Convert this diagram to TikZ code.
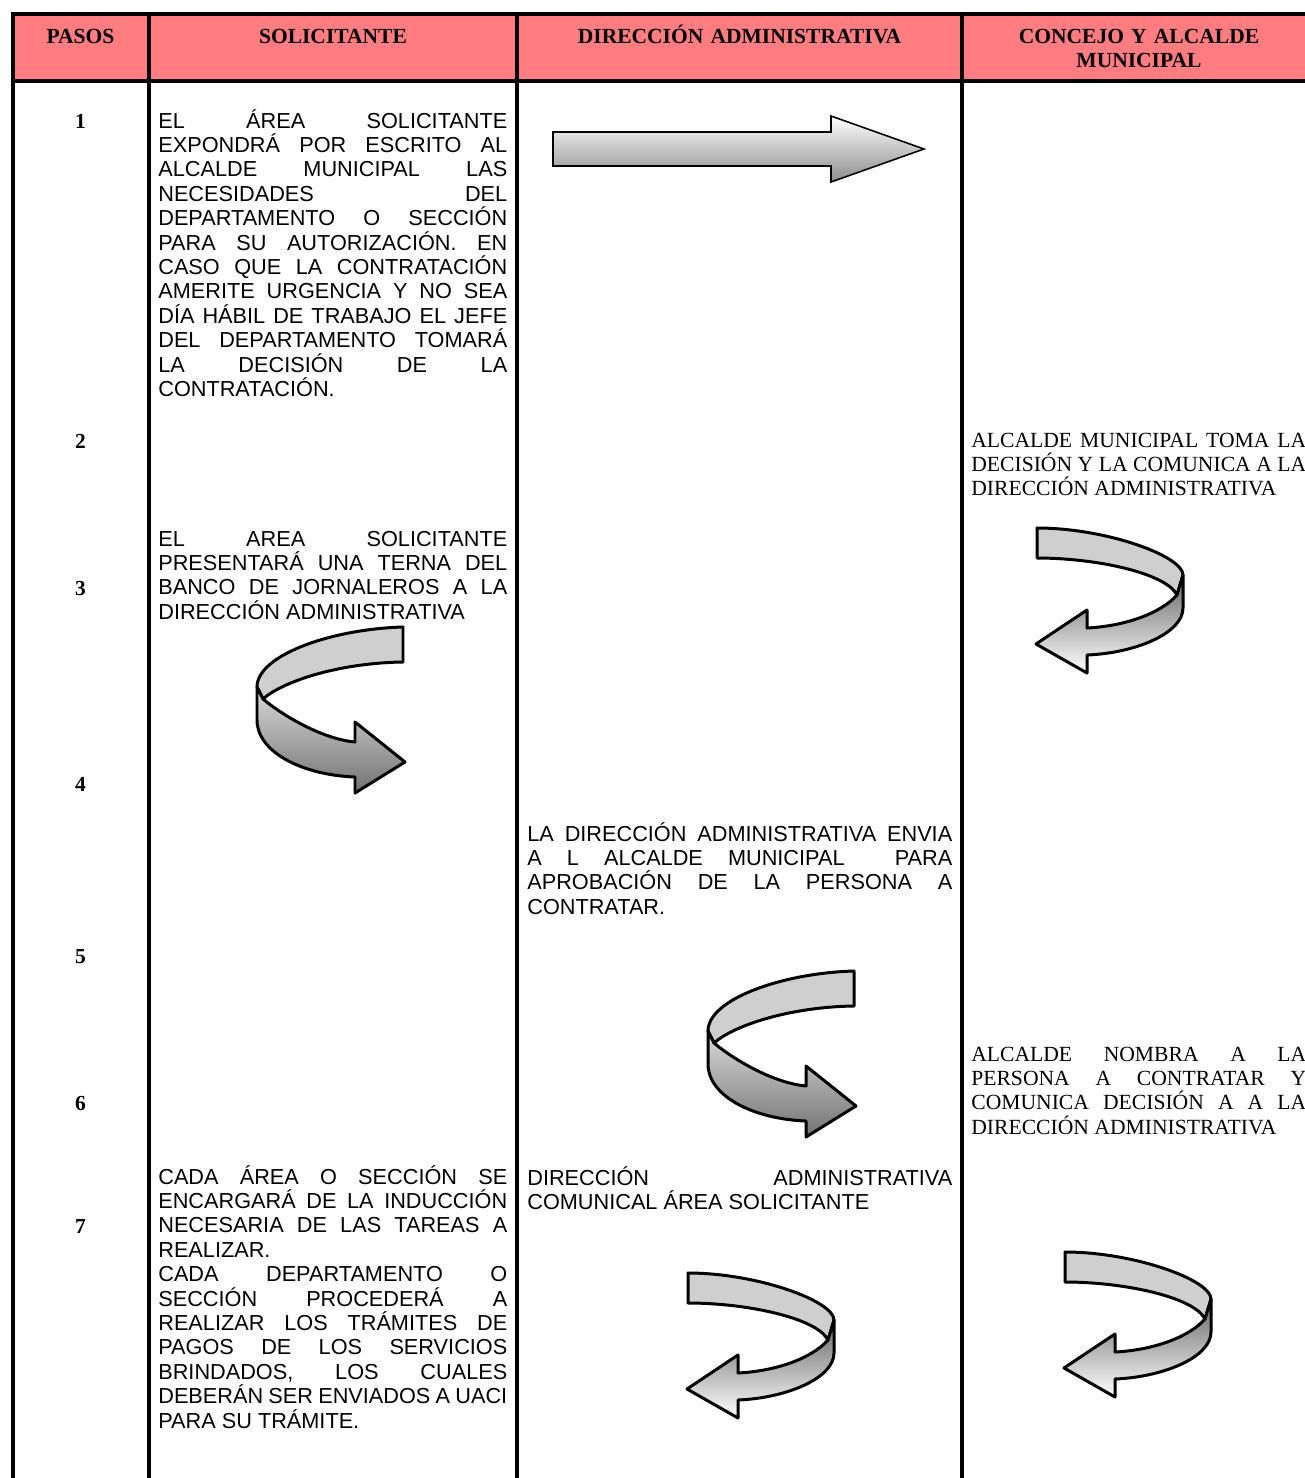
\documentclass[tikz,border=0pt]{standalone}
\usepackage{fontspec}
\setmainfont{Liberation Serif}
\newfontfamily\arialfam{Liberation Sans}
\definecolor{rosa}{RGB}{255,124,128}
\tolerance=10000
\hbadness=10000
\hyphenpenalty=10000
\frenchspacing

\begin{document}
\begin{tikzpicture}[x=0.02cm, y=-0.02cm,
    linea/.style={line width=2.2pt},
    encabezado/.style={anchor=base, inner sep=0pt, text width=8.6cm, align=center, font=\bfseries\fontsize{12.25}{13.8}\selectfont},
    paso/.style={anchor=base, inner sep=0pt, font=\bfseries\fontsize{12.2}{13.8}\selectfont},
    celda/.style={anchor=base west, inner sep=0pt, text width=#1, align=justify, font=\arialfam\fontsize{12.35}{13.9}\selectfont},
    celdaserif/.style={celda=#1, font=\fontsize{12.3}{13.9}\selectfont},
    contorno/.style={draw=black, line width=1.7pt, line join=round},
    cintaclara/.style={contorno, fill=black!19},
    curvader/.pic={
        \draw[cintaclara] (146,0) .. controls (75,2) and (0,28) .. (0,60) -- (6,72) .. controls (25,55) and (80,36) .. (146,35) -- cycle;
        \draw[contorno, top color=black!15, bottom color=black!55] (0,60) -- (0,93) .. controls (0,125) and (45,148) .. (98,150) -- (98,166) -- (148,135) -- (98,95) -- (98,115) .. controls (65,112) and (25,88) .. (6,72) -- cycle;
    },
    curvaizq/.pic={
        \draw[cintaclara] (1,0) .. controls (70,0) and (147,28) .. (147,47) -- (141,67) .. controls (130,45) and (60,30) .. (1,30) -- cycle;
        \draw[contorno, top color=black!60, bottom color=white] (147,47) -- (147,80) .. controls (147,105) and (100,125) .. (51,127) -- (51,145) -- (0,116) -- (51,82) -- (51,100) .. controls (90,98) and (125,85) .. (141,67) -- cycle;
    }]
        \useasboundingbox (0,0) rectangle (1305,1478);
        \clip (0,0) rectangle (1305,1478);
        \fill[rosa] (13,14) rectangle (1320,81);
        \draw[linea] (1320,14) -- (13,14) -- (13,1480);
        \draw[linea] (13,81) -- (1320,81);
        \foreach \x in {149,517,962} \draw[linea] (\x,14) -- (\x,1480);
        \node[encabezado] (hpasos) at (80.5,43) {PASOS};
        \node[encabezado] (hsol) at (333,43) {SOLICITANTE};
        \node[encabezado] (hdir) at (739.5,43) {DIRECCIÓN ADMINISTRATIVA};
        \node[encabezado, text width=6.4cm] (hcon) at (1139,43) {CONCEJO Y ALCALDE\\MUNICIPAL};
        \node[paso] (p1) at (80.5,128) {1};
        \node[paso] (p2) at (80.5,448) {2};
        \node[paso] (p3) at (80.5,595) {3};
        \node[paso] (p4) at (80.5,791) {4};
        \node[paso] (p5) at (80.5,963) {5};
        \node[paso] (p6) at (80.5,1110) {6};
        \node[paso] (p7) at (80.5,1233) {7};
        \node[celda=6.98cm] (sol1) at (158,128) {EL ÁREA SOLICITANTE\linebreak EXPONDRÁ POR ESCRITO AL\linebreak ALCALDE MUNICIPAL LAS\linebreak NECESIDADES DEL\linebreak DEPARTAMENTO O SECCIÓN\linebreak PARA SU AUTORIZACIÓN. EN\linebreak CASO QUE LA CONTRATACIÓN\linebreak AMERITE URGENCIA Y NO SEA\linebreak DÍA HÁBIL DE TRABAJO EL JEFE\linebreak DEL DEPARTAMENTO TOMARÁ\linebreak LA DECISIÓN DE LA\linebreak CONTRATACIÓN.};
        \node[celdaserif=6.7cm] (con1) at (971,447) {ALCALDE MUNICIPAL TOMA LA\linebreak DECISIÓN Y LA COMUNICA A LA\linebreak DIRECCIÓN ADMINISTRATIVA};
        \node[celda=6.98cm] (sol2) at (158,546) {EL AREA SOLICITANTE\linebreak PRESENTARÁ UNA TERNA DEL\linebreak BANCO DE JORNALEROS A LA\linebreak DIRECCIÓN ADMINISTRATIVA};
        \node[celda=8.5cm] (dir1) at (527,841) {LA DIRECCIÓN ADMINISTRATIVA ENVIA\linebreak A L ALCALDE MUNICIPAL\ \ PARA\linebreak APROBACIÓN DE LA PERSONA A\linebreak CONTRATAR.};
        \node[celdaserif=6.7cm] (con2) at (971,1061) {ALCALDE NOMBRA A LA\linebreak PERSONA A CONTRATAR Y\linebreak COMUNICA DECISIÓN A A LA\linebreak DIRECCIÓN ADMINISTRATIVA};
        \node[celda=6.98cm] (sol3) at (158,1184) {CADA ÁREA O SECCIÓN SE\linebreak ENCARGARÁ DE LA INDUCCIÓN\linebreak NECESARIA DE LAS TAREAS A\linebreak REALIZAR.\par CADA DEPARTAMENTO O\linebreak SECCIÓN PROCEDERÁ A\linebreak REALIZAR LOS TRÁMITES DE\linebreak PAGOS DE LOS SERVICIOS\linebreak BRINDADOS, LOS CUALES\linebreak DEBERÁN SER ENVIADOS A UACI\linebreak PARA SU TRÁMITE.};
        \node[celda=8.5cm] (dir2) at (527,1185) {DIRECCIÓN ADMINISTRATIVA\linebreak COMUNICAL ÁREA SOLICITANTE};
        \draw[line width=0.9pt, line join=miter, top color=white, bottom color=black!45] (553,132) -- (831,132) -- (831,116) -- (924,149) -- (831,182) -- (831,166) -- (553,166) -- cycle;
        \pic at (257,627) {curvader};
        \pic at (708,971) {curvader};
        \pic at (1036,528) {curvaizq};
        \pic at (687,1273) {curvaizq};
        \pic at (1064,1252) {curvaizq};
    \end{tikzpicture}
\end{document}
